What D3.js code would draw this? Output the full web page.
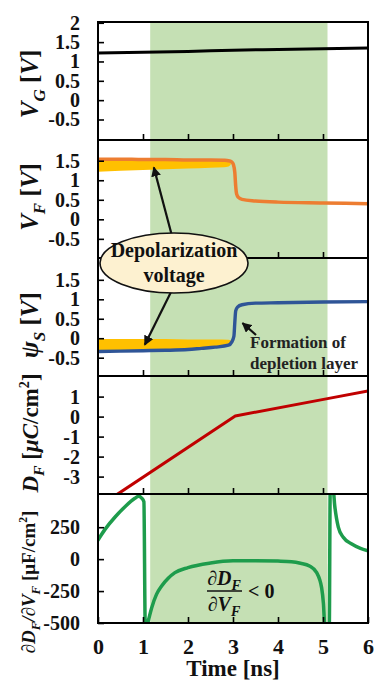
<!DOCTYPE html>
<html><head><meta charset="utf-8">
<script src="https://cdn.jsdelivr.net/npm/d3@7"></script>
<style>body{margin:0;background:#fff} svg{display:block}</style>
</head><body>
<svg id="chart" width="376" height="681"></svg>
<script>
// ---------- data ----------
const timeTicks = [0,1,2,3,4,5,6];
const innerTimeTicks = [1,2,3,4,5];
const highlightSpan = [1.16, 5.1];

const vgTicks = [2,1.5,1,0.5,0,-0.5];
const vfTicks = [1.5,1,0.5,0,-0.5];
const psiTicks = [1.5,1,0.5,0,-0.5];
const dfTicks = [1,0,-1,-2,-3];
const capTicks = [250,0,-250,-500];

const vgTime = [0,1,2,3,4,5,6];
const vgValues = [1.22,1.24,1.26,1.29,1.31,1.33,1.35];

const vfTime = [0,0.5,1,1.5,2,2.5,2.8,2.9,2.97,3.01,3.04,3.06,3.08,3.12,3.2,3.5,4,5,6];
const vfValues = [1.54,1.54,1.53,1.53,1.52,1.52,1.51,1.50,1.47,1.40,1.20,0.85,0.65,0.56,0.51,0.47,0.44,0.42,0.40];

const vfDepolTime = [0,1,2,2.5,2.8,2.9,2.95];
const vfDepolTop = [1.54,1.53,1.52,1.52,1.51,1.50,1.48];
const vfDepolBottom = [1.22,1.26,1.30,1.32,1.33,1.35,1.40];

const psiTime = [0,0.5,1,1.5,2,2.3,2.6,2.9,2.97,3.02,3.04,3.06,3.1,3.2,3.5,4,5,6];
const psiValues = [-0.34,-0.33,-0.32,-0.31,-0.29,-0.26,-0.23,-0.18,-0.10,0.05,0.40,0.70,0.80,0.86,0.90,0.91,0.93,0.94];

const psiDepolTime = [0,1,1.5,2,2.3,2.6,2.9,2.95];
const psiDepolTop = [-0.02,-0.02,-0.02,-0.03,-0.03,-0.03,-0.04,-0.05];
const psiDepolBottom = [-0.34,-0.32,-0.31,-0.29,-0.26,-0.23,-0.18,-0.14];

const dfTime = [0.42,3.05,5.1,6];
const dfValues = [-3.9,0.03,0.9,1.28];

const capTime = [0,0.16,0.38,0.6,0.82,0.9,0.97,1.02,1.05,1.09,1.12,1.19,1.3,1.41,1.56,1.71,2.0,2.5,3.0,3.5,4.0,4.3,4.5,4.7,4.86,4.97,5.01,5.04,5.14,5.16,5.23,5.26,5.3,5.34,5.45,5.64,5.82,6.0];
const capValues = [150,235,330,410,476,492,478,450,-520,-520,-480,-384,-276,-212,-150,-106,-66,-30,-13,-12,-15,-20,-32,-53,-106,-225,-350,-520,-520,530,530,420,320,251,171,119,87,66];

// ---------- layout ----------
const svg = d3.select("#chart");
const SERIF = "'Liberation Serif','Times New Roman',serif";
const x = d3.scaleLinear().domain([0,6]).range([98,368]);
const L = x.range()[0], R = x.range()[1];

const panels = [
  {top:22,  bottom:140, domain:[-1.03,2.02], ticks:vgTicks},
  {top:140, bottom:258, domain:[-0.99,2.03], ticks:vfTicks},
  {top:258, bottom:376, domain:[-0.97,2.06], ticks:psiTicks},
  {top:376, bottom:494, domain:[-3.87,2.03], ticks:dfTicks},
  {top:494, bottom:623, domain:[-500,510],   ticks:capTicks}
];
panels.forEach((p,i) => {
  p.y = d3.scaleLinear().domain(p.domain).range([p.bottom,p.top]);
  svg.append("clipPath").attr("id","clip"+i).append("rect")
    .attr("x",L).attr("y",p.top).attr("width",R-L).attr("height",p.bottom-p.top);
});

// highlight band
svg.append("rect")
  .attr("x",x(highlightSpan[0])).attr("width",x(highlightSpan[1])-x(highlightSpan[0]))
  .attr("y",panels[0].top).attr("height",panels[4].bottom-panels[0].top)
  .attr("fill","#c5e0b4");

function zip(t,v){ return t.map((d,i)=>[d,v[i]]); }
function drawLine(pi, t, v, color, w, curve){
  const p = panels[pi];
  svg.append("path").datum(zip(t,v))
    .attr("clip-path",`url(#clip${pi})`)
    .attr("fill","none").attr("stroke",color).attr("stroke-width",w)
    .attr("stroke-linejoin","round").attr("stroke-linecap","round")
    .attr("d", d3.line().x(d=>x(d[0])).y(d=>p.y(d[1])).curve(curve||d3.curveMonotoneX));
}
function drawBand(pi, t, top, bot, color){
  const p = panels[pi];
  const data = t.map((d,i)=>({t:d,a:top[i],b:bot[i]}));
  svg.append("path").datum(data)
    .attr("clip-path",`url(#clip${pi})`)
    .attr("fill",color)
    .attr("d", d3.area().x(d=>x(d.t)).y0(d=>p.y(d.b)).y1(d=>p.y(d.a)).curve(d3.curveMonotoneX));
}

drawLine(0, vgTime, vgValues, "#000", 3);
drawBand(1, vfDepolTime, vfDepolTop, vfDepolBottom, "#ffc000");
drawLine(1, vfTime, vfValues, "#ed7d31", 3.5);
drawBand(2, psiDepolTime, psiDepolTop, psiDepolBottom, "#ffc000");
drawLine(2, psiTime, psiValues, "#2f5597", 3.4);
drawLine(3, dfTime, dfValues, "#c00000", 3, d3.curveLinear);
drawLine(4, capTime, capValues, "#1e9c4c", 3.5);

// axes + borders
panels.forEach((p,i) => {
  const gy = svg.append("g").attr("transform",`translate(${L},0)`)
    .call(d3.axisLeft(p.y).tickValues(p.ticks).tickSize(-6).tickPadding(18).tickFormat(d=>String(d)));
  gy.select(".domain").remove();
  gy.selectAll("line").attr("stroke","#000").attr("stroke-width",1.6);
  gy.selectAll("text").attr("font-family",SERIF).attr("font-weight","bold").attr("font-size",20).attr("fill","#111");

  const last = i===panels.length-1;
  const gx = svg.append("g").attr("transform",`translate(0,${p.bottom})`)
    .call(d3.axisBottom(x).tickValues(last?timeTicks:innerTimeTicks).tickSize(-6).tickPadding(15)
      .tickFormat(last?(d=>String(d)):""));
  gx.select(".domain").remove();
  gx.selectAll("line").attr("stroke","#000").attr("stroke-width",1.6);
  gx.selectAll("text").attr("font-family",SERIF).attr("font-weight","bold").attr("font-size",22).attr("fill","#111");

  svg.append("rect").attr("x",L).attr("y",p.top).attr("width",R-L).attr("height",p.bottom-p.top)
    .attr("fill","none").attr("stroke","#000").attr("stroke-width",2);
});

// x title
svg.append("text").attr("x",(L+R)/2).attr("y",676).attr("text-anchor","middle")
  .attr("font-family",SERIF).attr("font-weight","bold").attr("font-size",23).attr("fill","#111")
  .text("Time [ns]");

// y titles
function yTitle(cx, cy, size, parts){
  const t = svg.append("text")
    .attr("transform",`translate(${cx},${cy}) rotate(-90)`)
    .attr("text-anchor","middle").attr("font-family",SERIF).attr("font-weight","bold")
    .attr("font-size",size).attr("fill","#111");
  let shift = 0;
  parts.forEach(pt => {
    const s = t.append("tspan").text(pt.t);
    if (pt.i) s.attr("font-style","italic");
    let target = 0;
    if (pt.sub) { s.attr("font-size",size*0.68); target = size*0.28; }
    if (pt.sup) { s.attr("font-size",size*0.62); target = -size*0.4; }
    if (target !== shift) { s.attr("dy", target - shift); shift = target; }
  });
}
yTitle(38, 84, 25, [{t:"V",i:1},{t:"G",i:1,sub:1},{t:" [",},{t:"V",i:1},{t:"]"}]);
yTitle(38, 197, 25, [{t:"V",i:1},{t:"F",i:1,sub:1},{t:" [",},{t:"V",i:1},{t:"]"}]);
yTitle(38, 325, 25, [{t:"ψ",i:1},{t:"S",i:1,sub:1},{t:" [",},{t:"V",i:1},{t:"]"}]);
yTitle(38, 433, 23, [{t:"D",i:1},{t:"F",i:1,sub:1},{t:" [",},{t:"μC",i:1},{t:"/cm"},{t:"2",sup:1},{t:"]"}]);
yTitle(35, 582, 19, [{t:"∂D",i:1},{t:"F",i:1,sub:1},{t:"/∂V",i:1},{t:"F",i:1,sub:1},{t:"  [μF/cm"},{t:"2",sup:1},{t:"]"}]);

// fraction label in bottom panel
function fracPart(xc, y, base, sub){
  const t = svg.append("text").attr("x",xc).attr("y",y).attr("text-anchor","middle")
    .attr("font-family",SERIF).attr("font-weight","bold").attr("font-style","italic")
    .attr("font-size",20).attr("fill","#111");
  t.append("tspan").text(base);
  t.append("tspan").attr("font-size",14).attr("dy",5).text(sub);
}
fracPart(224, 585, "∂D", "F");
fracPart(224, 611, "∂V", "F");
svg.append("line").attr("x1",207).attr("x2",242).attr("y1",591).attr("y2",591)
  .attr("stroke","#111").attr("stroke-width",1.6);
svg.append("text").attr("x",248).attr("y",598)
  .attr("font-family",SERIF).attr("font-weight","bold").attr("font-size",20).attr("fill","#111")
  .text("< 0");

// arrows
const defs = svg.append("defs");
defs.append("marker").attr("id","ah").attr("viewBox","0 0 10 10").attr("refX",9).attr("refY",5)
  .attr("markerWidth",4.5).attr("markerHeight",4.5).attr("orient","auto")
  .append("path").attr("d","M0,0 L10,5 L0,10 z").attr("fill","#111");
function arrow(x1,y1,x2,y2,w){
  svg.append("line").attr("x1",x1).attr("y1",y1).attr("x2",x2).attr("y2",y2)
    .attr("stroke","#111").attr("stroke-width",w).attr("marker-end","url(#ah)");
}
arrow(172, 236, x(1.24), panels[1].y(1.33), 2.2);
arrow(172, 290, x(1.04), panels[2].y(-0.17), 2.2);
arrow(256, 335, x(3.21), panels[2].y(0.39), 2.2);

// callout ellipse
svg.append("ellipse").attr("cx",174).attr("cy",263).attr("rx",74).attr("ry",30)
  .attr("fill","#fdf1d0").attr("stroke","#111").attr("stroke-width",1.6);
svg.append("text").attr("x",174).attr("y",257).attr("text-anchor","middle")
  .attr("font-family",SERIF).attr("font-weight","bold").attr("font-size",20).attr("fill","#111")
  .text("Depolarization");
svg.append("text").attr("x",174).attr("y",282).attr("text-anchor","middle")
  .attr("font-family",SERIF).attr("font-weight","bold").attr("font-size",20).attr("fill","#111")
  .text("voltage");

// depletion annotation
svg.append("text").attr("x",250).attr("y",348)
  .attr("font-family",SERIF).attr("font-weight","bold").attr("font-size",17).attr("fill","#222")
  .text("Formation of");
svg.append("text").attr("x",250).attr("y",369)
  .attr("font-family",SERIF).attr("font-weight","bold").attr("font-size",17).attr("fill","#222")
  .text("depletion layer");
</script>
</body></html>
